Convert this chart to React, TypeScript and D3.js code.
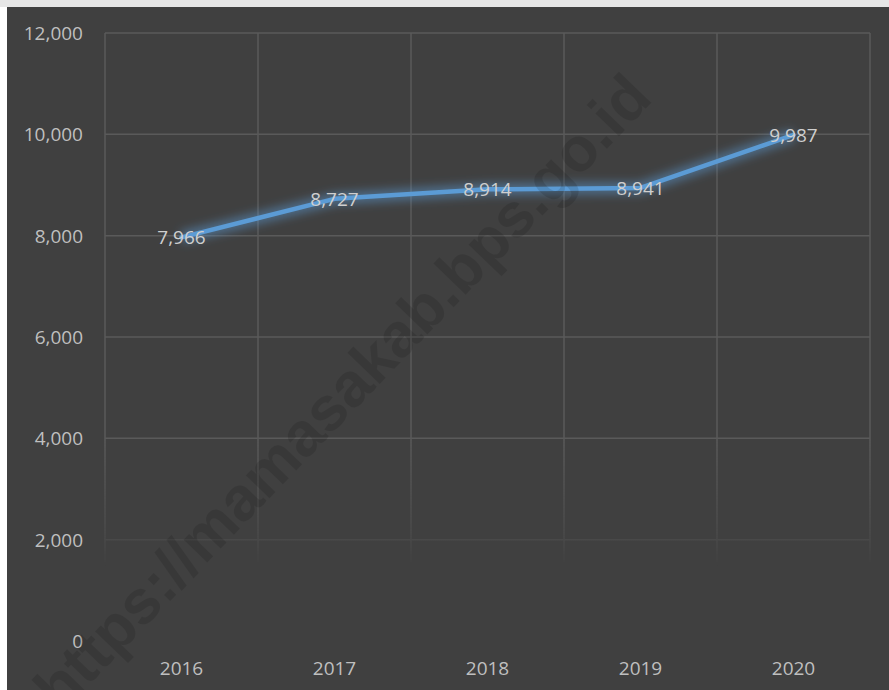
import React from "react";
import * as d3 from "d3";

const years = ["2016", "2017", "2018", "2019", "2020"];
const values = [7966, 8727, 8914, 8941, 9987];
const yTicks = [0, 2000, 4000, 6000, 8000, 10000, 12000];
const watermark = "https://mamasakab.bps.go.id";

const W = 889;
const H = 690;

export default function App() {
  const x = d3.scaleBand<string>().domain(years).range([105, 870]).padding(0);
  const y = d3.scaleLinear().domain([0, 12000]).range([641, 33]);
  const fmt = d3.format(",");
  const cx = (d: string) => (x(d) as number) + x.bandwidth() / 2;
  const line = d3
    .line<number>()
    .x((_, i) => cx(years[i]))
    .y((v) => y(v));
  const path = line(values) as string;
  const font = "'Open Sans', 'Noto Sans', sans-serif";
  const bounds = [...years.map((d) => x(d) as number), 870];

  return (
    <svg
      width={W}
      height={H}
      style={{ position: "absolute", left: 0, top: 0 }}
      xmlns="http://www.w3.org/2000/svg"
    >
      <defs>
        <filter id="glow" x="-20%" y="-50%" width="140%" height="200%">
          <feGaussianBlur stdDeviation="5" />
        </filter>
        <linearGradient id="fade" x1={0} y1={0} x2={0} y2={H} gradientUnits="userSpaceOnUse">
          <stop offset={0} stopColor="#fff" stopOpacity={1} />
          <stop offset={440 / H} stopColor="#fff" stopOpacity={1} />
          <stop offset={540 / H} stopColor="#fff" stopOpacity={0.35} />
          <stop offset={566 / H} stopColor="#fff" stopOpacity={0} />
          <stop offset={1} stopColor="#fff" stopOpacity={0} />
        </linearGradient>
        <mask id="gridMask" maskUnits="userSpaceOnUse" x="0" y="0" width={W} height={H}>
          <rect x={0} y={0} width={W} height={H} fill="url(#fade)" />
        </mask>
      </defs>
      <rect x={0} y={0} width={W} height={H} fill="#ffffff" />
      <rect x={0} y={0} width={W} height={7} fill="#e6e6e6" />
      <rect x={7} y={7} width={W - 7} height={H - 7} fill="#404040" />

      <g mask="url(#gridMask)" stroke="#5a5a5a" strokeWidth={1.5}>
        {yTicks.map((t) => (
          <line key={"h" + t} x1={105} x2={870} y1={y(t)} y2={y(t)} />
        ))}
        {bounds.map((b, i) => (
          <line key={"v" + i} x1={b} x2={b} y1={y(12000)} y2={y(0)} />
        ))}
      </g>

      <g fontFamily={font} fontSize={19} fill="#bfbfbf">
        {yTicks.map((t) => (
          <text key={"yl" + t} x={83} y={y(t)} textAnchor="end" dominantBaseline="central">
            {fmt(t)}
          </text>
        ))}
        {years.map((d) => (
          <text key={"xl" + d} x={cx(d)} y={668} textAnchor="middle" dominantBaseline="central">
            {d}
          </text>
        ))}
      </g>

      <path d={path} fill="none" stroke="#5b9bd5" strokeOpacity={0.5} strokeWidth={12} filter="url(#glow)" />
      <path d={path} fill="none" stroke="#5b9bd5" strokeWidth={4.5} strokeLinejoin="round" strokeLinecap="round" />

      <g fontFamily={font} fontSize={19} fill="#cfcfcf">
        {values.map((v, i) => (
          <text key={"dl" + i} x={cx(years[i])} y={y(v)} textAnchor="middle" dominantBaseline="central">
            {fmt(v)}
          </text>
        ))}
      </g>

      <text
        x={342}
        y={392}
        transform="rotate(-46 342 392)"
        textAnchor="middle"
        dominantBaseline="central"
        fontFamily="'Liberation Sans', Arial, sans-serif"
        fontWeight="bold"
        fontSize={62}
        fill="#000"
        fillOpacity={0.12}
      >
        {watermark}
      </text>
    </svg>
  );
}
